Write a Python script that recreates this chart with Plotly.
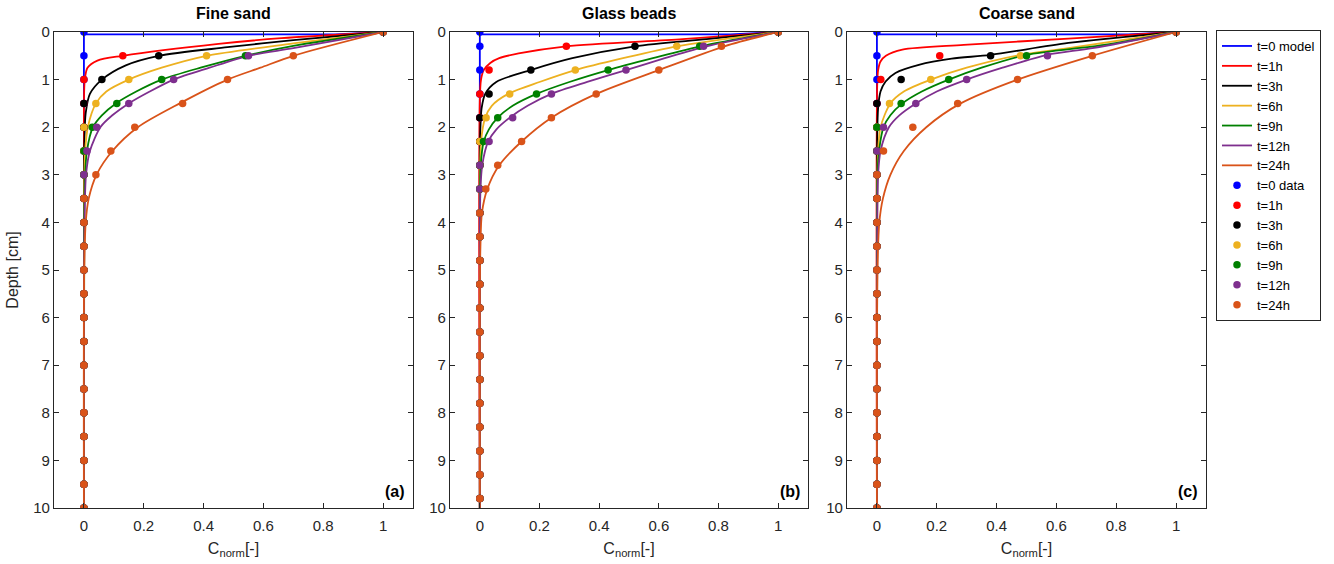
import plotly.graph_objects as go

W, H = 1334, 564

# ---------------- measured profiles (normalised concentration vs depth) ----------------
DEPTH_AC = [0, 0.5, 1, 1.5, 2, 2.5, 3, 3.5, 4, 4.5, 5, 5.5, 6, 6.5, 7, 7.5, 8, 8.5, 9, 9.5, 10]
DEPTH_B = [0, 0.3, 0.8, 1.3, 1.8, 2.3, 2.8, 3.3, 3.8, 4.3, 4.8, 5.3, 5.8, 6.3, 6.8, 7.3, 7.8, 8.3, 8.8, 9.3, 9.8]

LABELS = ["t=0", "t=1h", "t=3h", "t=6h", "t=9h", "t=12h", "t=24h"]
COLORS = ["#0000FF", "#FF0000", "#000000", "#EDB120", "#008000", "#7E2F8E", "#D95319"]

Z0 = [0, 0, 0, 0, 0, 0, 0, 0, 0, 0, 0, 0, 0, 0, 0, 0, 0, 0, 0, 0, 0]

fine_t1 = [1, 0.13, 0, 0, 0, 0, 0, 0, 0, 0, 0, 0, 0, 0, 0, 0, 0, 0, 0, 0, 0]
fine_t3 = [1, 0.25, 0.06, 0, 0, 0, 0, 0, 0, 0, 0, 0, 0, 0, 0, 0, 0, 0, 0, 0, 0]
fine_t6 = [1, 0.41, 0.15, 0.04, 0, 0, 0, 0, 0, 0, 0, 0, 0, 0, 0, 0, 0, 0, 0, 0, 0]
fine_t9 = [1, 0.54, 0.26, 0.11, 0.028, 0, 0, 0, 0, 0, 0, 0, 0, 0, 0, 0, 0, 0, 0, 0, 0]
fine_t12 = [1, 0.55, 0.30, 0.15, 0.043, 0.01, 0, 0, 0, 0, 0, 0, 0, 0, 0, 0, 0, 0, 0, 0, 0]
fine_t24 = [1, 0.70, 0.48, 0.33, 0.17, 0.09, 0.04, 0, 0, 0, 0, 0, 0, 0, 0, 0, 0, 0, 0, 0, 0]

glass_t1 = [1, 0.29, 0.031, 0, 0, 0, 0, 0, 0, 0, 0, 0, 0, 0, 0, 0, 0, 0, 0, 0, 0]
glass_t3 = [1, 0.52, 0.171, 0.031, 0, 0, 0, 0, 0, 0, 0, 0, 0, 0, 0, 0, 0, 0, 0, 0, 0]
glass_t6 = [1, 0.66, 0.32, 0.10, 0.021, 0, 0, 0, 0, 0, 0, 0, 0, 0, 0, 0, 0, 0, 0, 0, 0]
glass_t9 = [1, 0.737, 0.43, 0.19, 0.06, 0.012, 0, 0, 0, 0, 0, 0, 0, 0, 0, 0, 0, 0, 0, 0, 0]
glass_t12 = [1, 0.75, 0.49, 0.24, 0.11, 0.031, 0, 0, 0, 0, 0, 0, 0, 0, 0, 0, 0, 0, 0, 0, 0]
glass_t24 = [1, 0.81, 0.60, 0.39, 0.24, 0.14, 0.06, 0.02, 0, 0, 0, 0, 0, 0, 0, 0, 0, 0, 0, 0, 0]

coarse_t1 = [1, 0.21, 0.013, 0, 0, 0, 0, 0, 0, 0, 0, 0, 0, 0, 0, 0, 0, 0, 0, 0, 0]
coarse_t3 = [1, 0.38, 0.081, 0, 0, 0, 0, 0, 0, 0, 0, 0, 0, 0, 0, 0, 0, 0, 0, 0, 0]
coarse_t6 = [1, 0.48, 0.18, 0.042, 0, 0, 0, 0, 0, 0, 0, 0, 0, 0, 0, 0, 0, 0, 0, 0, 0]
coarse_t9 = [1, 0.50, 0.24, 0.081, 0, 0, 0, 0, 0, 0, 0, 0, 0, 0, 0, 0, 0, 0, 0, 0, 0]
coarse_t12 = [1, 0.57, 0.30, 0.13, 0.022, 0, 0, 0, 0, 0, 0, 0, 0, 0, 0, 0, 0, 0, 0, 0, 0]
coarse_t24 = [1, 0.72, 0.47, 0.27, 0.12, 0.022, 0, 0, 0, 0, 0, 0, 0, 0, 0, 0, 0, 0, 0, 0, 0]

# ---------------- model profiles (depth points, concentration) ----------------
model0_z = [0, 0.05, 0.05, 10]
model0_c = [1, 0.84, 0, 0]

fine_model_z = [
    [0, 0.13, 0.25, 0.5, 0.6, 0.75, 1.0, 1.5, 10],
    [0, 0.17, 0.32, 0.5, 0.7, 1.0, 1.3, 1.7, 2.2, 3, 10],
    [0, 0.24, 0.5, 0.75, 1.0, 1.25, 1.5, 2.0, 2.5, 3.2, 10],
    [0, 0.29, 0.5, 0.75, 1.0, 1.25, 1.5, 1.75, 2.0, 2.5, 3.0, 4.0, 10],
    [0, 0.34, 0.5, 0.75, 1.0, 1.25, 1.5, 1.75, 2.0, 2.5, 3.0, 4.0, 10],
    [0, 0.5, 0.75, 1.0, 1.5, 2.0, 2.5, 3.0, 3.5, 4.0, 5.0, 10],
]
fine_model_c = [
    [1, 0.66, 0.45, 0.13, 0.045, 0.012, 0.003, 0, 0],
    [1, 0.70, 0.48, 0.25, 0.14, 0.06, 0.02, 0.006, 0.002, 0, 0],
    [1, 0.70, 0.41, 0.26, 0.15, 0.075, 0.04, 0.013, 0.004, 0.001, 0],
    [1, 0.70, 0.54, 0.39, 0.26, 0.175, 0.107, 0.06, 0.03, 0.01, 0.004, 0.001, 0],
    [1, 0.70, 0.55, 0.42, 0.30, 0.22, 0.15, 0.095, 0.055, 0.02, 0.007, 0.002, 0],
    [1, 0.70, 0.59, 0.48, 0.32, 0.18, 0.095, 0.042, 0.016, 0.006, 0.001, 0],
]

glass_model_z = [
    [0, 0.15, 0.3, 0.45, 0.55, 0.65, 0.8, 1.0, 1.4, 10],
    [0, 0.15, 0.3, 0.55, 0.8, 1.05, 1.3, 1.6, 2.0, 2.6, 10],
    [0, 0.3, 0.55, 0.8, 1.05, 1.3, 1.55, 1.8, 2.3, 3.0, 10],
    [0, 0.3, 0.55, 0.8, 1.05, 1.3, 1.55, 1.8, 2.05, 2.3, 2.8, 3.5, 10],
    [0, 0.3, 0.55, 0.8, 1.05, 1.3, 1.55, 1.8, 2.05, 2.3, 2.8, 3.3, 4.0, 10],
    [0, 0.3, 0.8, 1.3, 1.8, 2.3, 2.8, 3.3, 3.8, 4.5, 5.5, 10],
]
glass_model_c = [
    [1, 0.68, 0.29, 0.13, 0.065, 0.035, 0.013, 0.004, 0, 0],
    [1, 0.76, 0.52, 0.31, 0.17, 0.055, 0.018, 0.006, 0.002, 0, 0],
    [1, 0.66, 0.48, 0.32, 0.20, 0.095, 0.04, 0.018, 0.004, 0.001, 0],
    [1, 0.74, 0.58, 0.43, 0.30, 0.19, 0.11, 0.06, 0.03, 0.013, 0.003, 0.001, 0],
    [1, 0.76, 0.62, 0.49, 0.36, 0.24, 0.16, 0.10, 0.055, 0.028, 0.008, 0.002, 0.0005, 0],
    [1, 0.82, 0.60, 0.39, 0.24, 0.14, 0.065, 0.025, 0.007, 0.002, 0, 0],
]

coarse_model_z = [
    [0, 0.14, 0.27, 0.37, 0.5, 0.62, 0.8, 1.1, 10],
    [0, 0.23, 0.48, 0.56, 0.69, 0.86, 1.04, 1.25, 1.6, 2.2, 10],
    [0, 0.34, 0.48, 0.75, 1.0, 1.25, 1.5, 2.0, 2.5, 3.2, 10],
    [0, 0.27, 0.48, 0.75, 1.0, 1.25, 1.5, 1.75, 2.0, 2.5, 3.0, 4.0, 10],
    [0, 0.34, 0.48, 0.75, 1.0, 1.25, 1.5, 1.75, 2.0, 2.5, 3.0, 4.0, 10],
    [0, 0.5, 1.0, 1.5, 2.0, 2.5, 3.0, 3.5, 4.0, 5.0, 10],
]
coarse_model_c = [
    [1, 0.64, 0.29, 0.085, 0.03, 0.012, 0.004, 0.001, 0],
    [1, 0.64, 0.38, 0.25, 0.14, 0.062, 0.029, 0.012, 0.004, 0.001, 0],
    [1, 0.64, 0.48, 0.30, 0.18, 0.09, 0.045, 0.012, 0.004, 0.001, 0],
    [1, 0.76, 0.50, 0.35, 0.24, 0.15, 0.085, 0.045, 0.022, 0.007, 0.002, 0.0005, 0],
    [1, 0.72, 0.57, 0.42, 0.30, 0.20, 0.13, 0.075, 0.04, 0.012, 0.004, 0.001, 0],
    [1, 0.72, 0.47, 0.28, 0.165, 0.09, 0.045, 0.02, 0.008, 0.002, 0],
]

PANELS = [
    dict(title="Fine sand", tag="(a)", depth=DEPTH_AC,
         data=[Z0, fine_t1, fine_t3, fine_t6, fine_t9, fine_t12, fine_t24],
         mz=fine_model_z, mc=fine_model_c),
    dict(title="Glass beads", tag="(b)", depth=DEPTH_B,
         data=[Z0, glass_t1, glass_t3, glass_t6, glass_t9, glass_t12, glass_t24],
         mz=glass_model_z, mc=glass_model_c),
    dict(title="Coarse sand", tag="(c)", depth=DEPTH_AC,
         data=[Z0, coarse_t1, coarse_t3, coarse_t6, coarse_t9, coarse_t12, coarse_t24],
         mz=coarse_model_z, mc=coarse_model_c),
]

# ---------------- layout geometry (pixels) ----------------
X_DOMAINS_PX = [(54, 413), (450, 808), (847, 1206)]
PLOT_TOP, PLOT_BOTTOM = 32, 508
FONT = "Liberation Sans, Arial, Helvetica, sans-serif"
AX_COLOR = "#262626"

fig = go.Figure()

for i, p in enumerate(PANELS):
    sfx = "" if i == 0 else str(i + 1)
    xa, ya = "x" + sfx, "y" + sfx
    first = i == 0
    # model curves
    fig.add_trace(go.Scatter(
        x=model0_c, y=model0_z, mode="lines", xaxis=xa, yaxis=ya,
        line=dict(color=COLORS[0], width=1.8), name="t=0 model",
        legendrank=1, showlegend=first))
    for k in range(6):
        fig.add_trace(go.Scatter(
            x=p["mc"][k], y=p["mz"][k], mode="lines", xaxis=xa, yaxis=ya,
            line=dict(color=COLORS[k + 1], width=1.8, shape="spline", smoothing=0.8),
            name=LABELS[k + 1], legendrank=2 + k, showlegend=first))
    # measured data
    for k in range(7):
        fig.add_trace(go.Scatter(
            x=p["data"][k], y=p["depth"], mode="markers", xaxis=xa, yaxis=ya,
            marker=dict(color=COLORS[k], size=7.5),
            name="t=0 data" if k == 0 else LABELS[k],
            legendrank=10 + k, showlegend=first))

layout = dict(
    width=W, height=H,
    margin=dict(l=0, r=0, t=0, b=0, autoexpand=False),
    paper_bgcolor="white", plot_bgcolor="white",
    font=dict(family=FONT, size=15, color="#262626"),
    legend=dict(
        x=1216 / W, y=1 - 30 / H, xanchor="left", yanchor="top",
        bordercolor=AX_COLOR, borderwidth=1, bgcolor="white",
        font=dict(size=13, color="#000000"), itemwidth=30, tracegroupgap=0,
        traceorder="normal",
    ),
    annotations=[],
)

ydom = [1 - PLOT_BOTTOM / H, 1 - PLOT_TOP / H]
for i, p in enumerate(PANELS):
    sfx = "" if i == 0 else str(i + 1)
    x0, x1 = X_DOMAINS_PX[i]
    layout["xaxis" + sfx] = dict(
        domain=[x0 / W, x1 / W], anchor="y" + sfx, automargin=False,
        range=[-0.1, 1.1], tickvals=[0, 0.2, 0.4, 0.6, 0.8, 1],
        ticktext=["0", "0.2", "0.4", "0.6", "0.8", "1"],
        ticks="inside", ticklen=5, tickcolor=AX_COLOR, mirror="allticks",
        showline=True, linecolor=AX_COLOR, linewidth=1.2, ticklabelstandoff=4,
        showgrid=False, zeroline=False, tickfont=dict(size=15),
        title=dict(text="C<sub>norm</sub>[-]", standoff=9, font=dict(size=16)),
    )
    yax = dict(
        domain=ydom, anchor="x" + sfx, automargin=False,
        range=[10, 0], tickvals=list(range(0, 11)),
        ticks="inside", ticklen=5, tickcolor=AX_COLOR, mirror="allticks",
        showline=True, linecolor=AX_COLOR, linewidth=1.2,
        showgrid=False, zeroline=False, tickfont=dict(size=15),
    )
    if i == 0:
        yax["title"] = dict(text="Depth [cm]", standoff=10, font=dict(size=16))
    layout["yaxis" + sfx] = yax
    layout["annotations"].append(dict(
        text="<b>%s</b>" % p["title"], xref="paper", yref="paper",
        x=(x0 + x1) / 2 / W, y=1 - 14 / H, xanchor="center", yanchor="middle",
        showarrow=False, font=dict(size=16, color="#000000")))
    layout["annotations"].append(dict(
        text="<b>%s</b>" % p["tag"], xref="x" + sfx, yref="y" + sfx,
        x=1.08, y=9.66, xanchor="right", yanchor="middle",
        showarrow=False, font=dict(size=16, color="#000000")))

fig.update_layout(**layout)
fig.write_html("out.html")
